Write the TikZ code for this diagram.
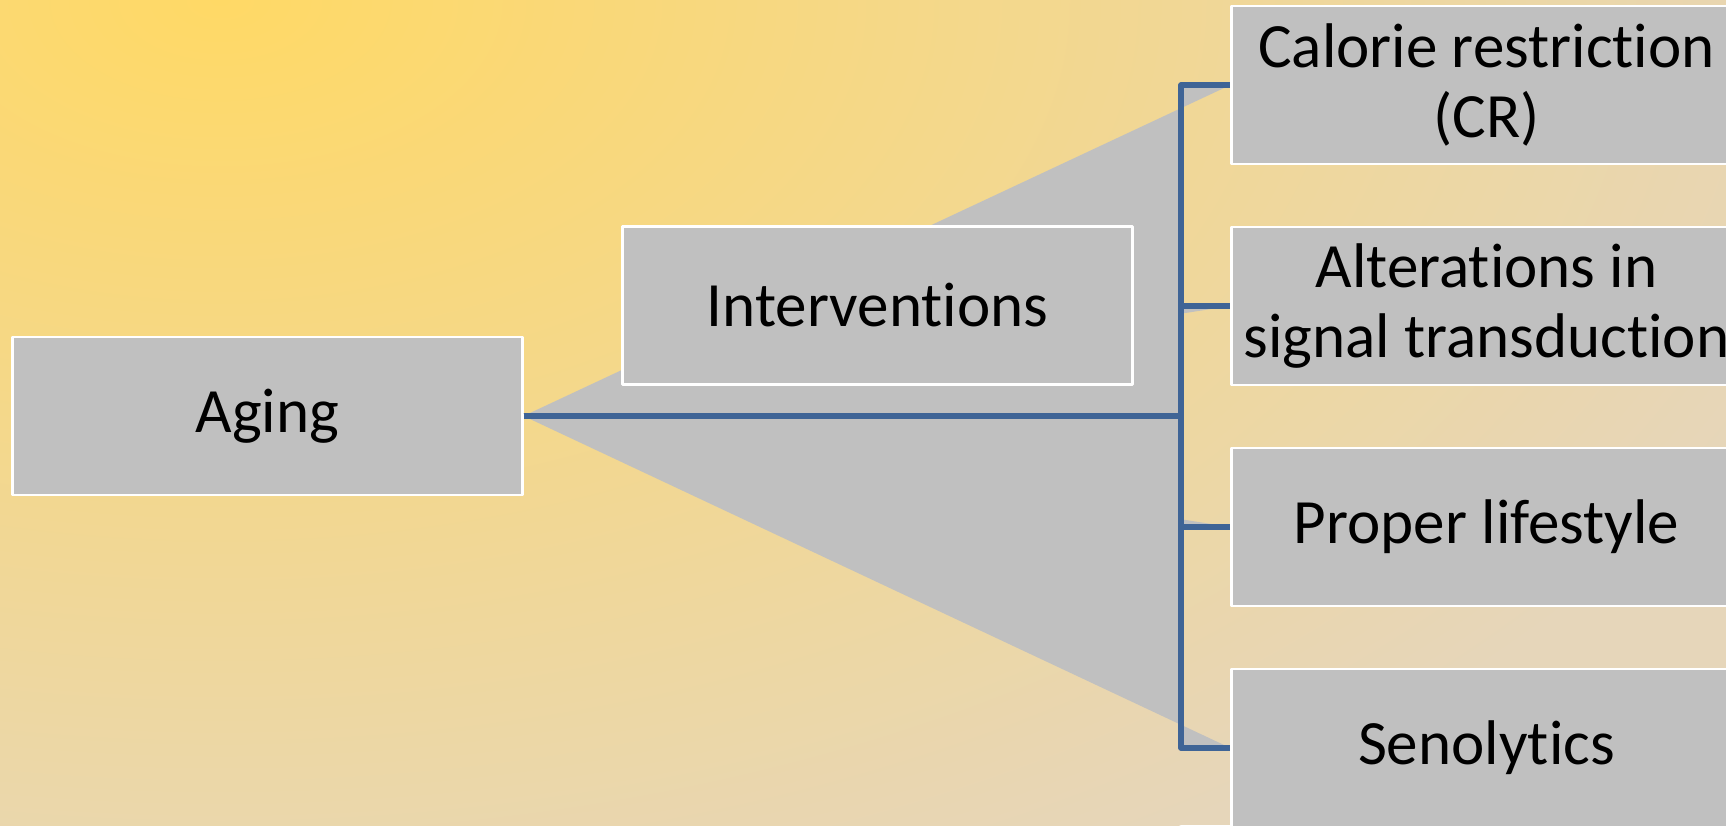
\documentclass[tikz,border=0pt]{standalone}
\usepackage{fontspec}
\setmainfont{Carlito}
\usepackage{tikz}
\usetikzlibrary{positioning,backgrounds}
\definecolor{boxgray}{HTML}{C0C0C0}
\definecolor{linkblue}{HTML}{3F6496}
\definecolor{sunyellow}{HTML}{FFD966}
\definecolor{sand}{HTML}{E6D6BA}
\tikzset{
    every picture/.style={line cap=round,line join=round},
    smartbox/.style={draw=white,fill=boxgray,line width=1.3pt,
      minimum width=10.2cm,minimum height=3.16cm,inner sep=2pt,
      font=\fontsize{35.9}{39.8}\selectfont,align=center,text=black},
    wedge/.style={fill=boxgray},
    elbow/.style={draw=linkblue,line width=3.3pt,line cap=butt}
}
\begin{document}
\begin{tikzpicture}[x=0.02cm,y=-0.02cm]
  \useasboundingbox (0,0) rectangle (1726,825);
  \clip (0,0) rectangle (1726,825);
  \node[smartbox] (aging) at (267.5,416) {Aging};
  \node[smartbox] (interv) at (877.5,305.5) {Intervent\kern0pt ions};
  \foreach \t [count=\i from 0] in {{Calorie restrict\kern0pt ion\\(CR)},{Alterat\kern0pt ions in\\signal transduct\kern0pt ion},{Proper lifestyle},{Senolyt\kern0pt ics}}{
    \node[smartbox] (c\i) at (1486.5,85+221*\i) {\t};}
  \coordinate (bus) at (1181,416);
  \begin{scope}[on background layer]
    \clip (0,0) rectangle (1726,825);
    \fill[sand] (0,0) rectangle (1726,825);
    \shade[inner color=sunyellow,outer color=sand] (220,0) ellipse (1700 and 1000);
    \foreach \i in {0,...,3}
      \fill[wedge] (aging.east) -| (bus|-c\i.west) -- (c\i.west);
  \end{scope}
  \foreach \i in {0,...,3}
    \draw[elbow] (aging.east) -| (bus|-c\i.west) -- (c\i.west);
\end{tikzpicture}
\end{document}
